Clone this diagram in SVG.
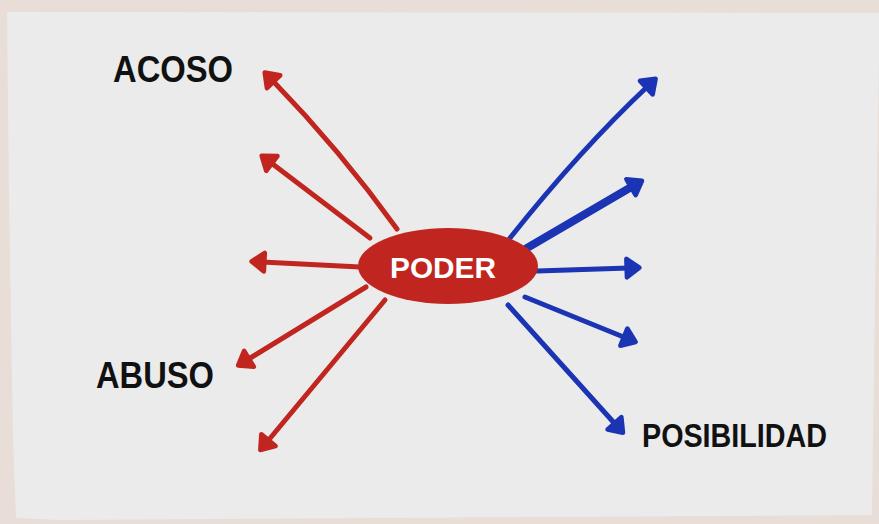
<svg xmlns="http://www.w3.org/2000/svg" width="879" height="524" viewBox="0 0 879 524">
<style>
.lbl{font-family:"Liberation Sans",Arial,sans-serif;font-weight:bold;fill:#111;}
.red{fill:none;stroke:#c0261f;stroke-width:5;stroke-linecap:round;}
.blue{fill:none;stroke:#1b34b4;stroke-width:5;stroke-linecap:round;}
</style>
<defs>
<marker id="ar" markerUnits="userSpaceOnUse" markerWidth="30" markerHeight="30" viewBox="-10 -12 26 24" refX="1" refY="0" orient="auto">
<path d="M-1,-8 L10,0 L-1,8 Z" fill="#c0261f" stroke="#c0261f" stroke-width="4" stroke-linejoin="round"/>
</marker>
<marker id="ab" markerUnits="userSpaceOnUse" markerWidth="30" markerHeight="30" viewBox="-10 -12 26 24" refX="1" refY="0" orient="auto">
<path d="M-1,-8 L10,0 L-1,8 Z" fill="#1b34b4" stroke="#1b34b4" stroke-width="4" stroke-linejoin="round"/>
</marker>
</defs>
<rect width="879" height="524" fill="#e8ddd7"/>
<path d="M7,12 L879,13 L879,60 L875,300 L872,515 L60,520 L16,518 L13,440 L9,200 Z" fill="#ebebeb"/>
<g id="connectors">
<path class="red" d="M397,229 Q340,150 272,80" marker-end="url(#ar)"/>
<path class="red" d="M370,238 L270,162" marker-end="url(#ar)"/>
<path class="red" d="M360,267 L262,262" marker-end="url(#ar)"/>
<path class="red" d="M366,287 L247,360" marker-end="url(#ar)"/>
<path class="red" d="M385,300 L267,442" marker-end="url(#ar)"/>
<path class="blue" d="M510,238 Q580,150 648,86" marker-end="url(#ab)"/>
<path class="blue" d="M527,248 L633,186" style="stroke-width:8" marker-end="url(#ab)"/>
<path class="blue" d="M537,271 L629,268" marker-end="url(#ab)"/>
<path class="blue" d="M525,297 L626,338" marker-end="url(#ab)"/>
<path class="blue" d="M508,305 L616,425" marker-end="url(#ab)"/>
</g>
<g id="poder">
<ellipse cx="448" cy="266" rx="90" ry="38" fill="#c0261f"/>
<text x="443" y="278" text-anchor="middle" font-family="Liberation Sans,Arial,sans-serif" font-weight="bold" font-size="29" fill="#ffffff" textLength="106" lengthAdjust="spacingAndGlyphs">PODER</text>
</g>
<g id="acoso"><text class="lbl" x="113" y="82" font-size="36" textLength="120" lengthAdjust="spacingAndGlyphs">ACOSO</text></g>
<g id="abuso"><text class="lbl" x="96" y="388" font-size="36" textLength="118" lengthAdjust="spacingAndGlyphs">ABUSO</text></g>
<g id="posibilidad"><text class="lbl" x="642" y="447" font-size="33" textLength="185" lengthAdjust="spacingAndGlyphs">POSIBILIDAD</text></g>
</svg>
